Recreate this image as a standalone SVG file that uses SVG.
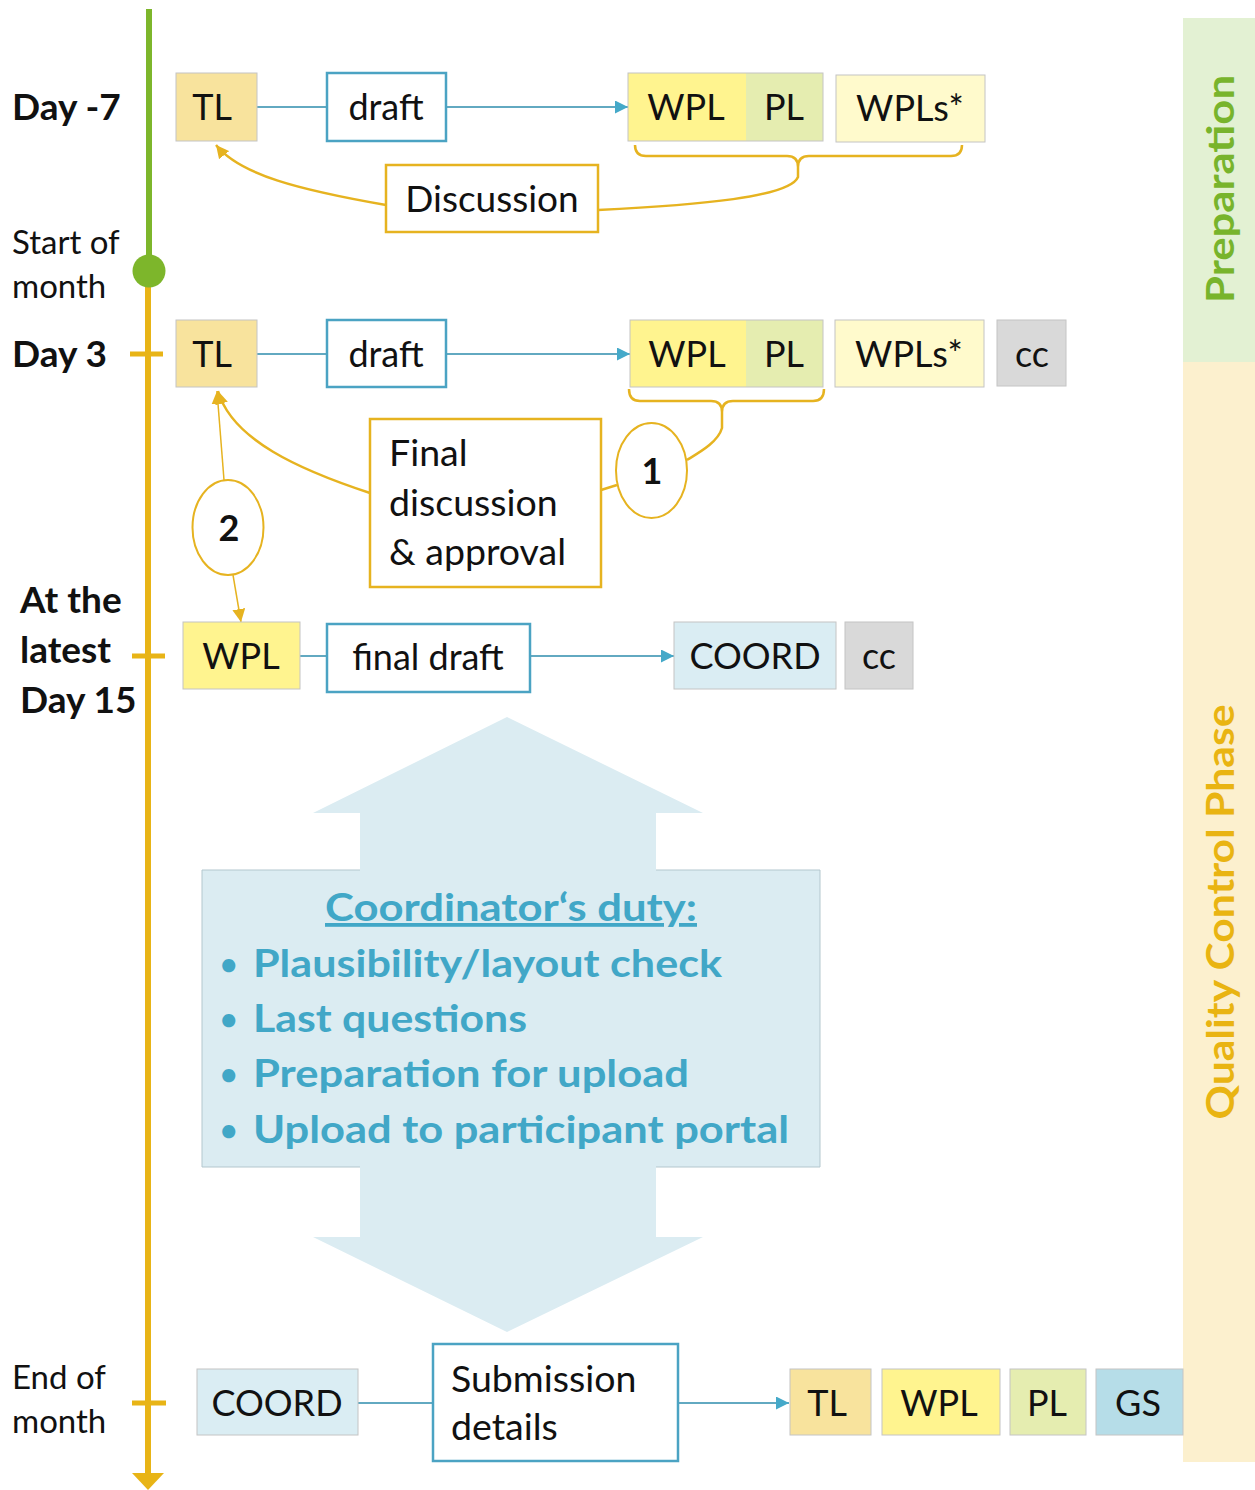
<svg xmlns="http://www.w3.org/2000/svg" width="1255" height="1490" viewBox="0 0 1255 1490">
<defs>
<style>
text{font-family:Lato,"Open Sans","Liberation Sans",sans-serif;fill:#111}
.n{font-size:36px;text-anchor:middle}
.lb{font-size:37px;font-weight:bold}
.ls{font-size:33px}
.mt{font-size:37.5px}
.node{stroke:#C4C4C4;stroke-width:1}
.tl{fill:#F8E39D}.wpl{fill:#FFF48F}.pl{fill:#E5EDB0}.wpls{fill:#FFFACC}.cc{fill:#D9D9D9}.coord{fill:#DAEDF3}.gs{fill:#B6DDE8}
.bbox{fill:#fff;stroke:#4BA3C3;stroke-width:2.5}
.obox{fill:#fff;stroke:#E6B320;stroke-width:2.5}
.bl{fill:none;stroke:#62A9C1;stroke-width:2}
.ol{fill:none;stroke:#E6B320;stroke-width:2.5}
.olt{fill:none;stroke:#E6B320;stroke-width:1.5}
.duty{font-size:38px;font-weight:bold;fill:#41A7C7}
.bul{font-size:30px;font-weight:bold;fill:#41A7C7}
</style>
<marker id="ab" viewBox="0 0 12 12" refX="12" refY="6" markerWidth="13" markerHeight="13" markerUnits="userSpaceOnUse" orient="auto"><path d="M0,0 L12,6 L0,12 Z" fill="#45A9C9"/></marker>
<marker id="ao" viewBox="0 0 12 12" refX="12" refY="6" markerWidth="13" markerHeight="13" markerUnits="userSpaceOnUse" orient="auto"><path d="M0,0 L12,6 L0,12 Z" fill="#E6B320"/></marker>
</defs>

<!-- phase bands -->
<g id="band-preparation">
<rect x="1183" y="18" width="72" height="344" fill="#E3F1D3"/>
<text transform="translate(1234,189) rotate(-90)" text-anchor="middle" font-size="38" font-weight="bold" style="fill:#78B42C" textLength="228" lengthAdjust="spacingAndGlyphs">Preparation</text>
</g>
<g id="band-quality">
<rect x="1183" y="362" width="72" height="1100" fill="#FCF0CE"/>
<text transform="translate(1234,912) rotate(-90)" text-anchor="middle" font-size="38" font-weight="bold" style="fill:#E9B412" textLength="415" lengthAdjust="spacingAndGlyphs">Quality Control Phase</text>
</g>

<!-- timeline -->
<g id="timeline">
<line x1="149" y1="9" x2="149" y2="272" stroke="#7DB62B" stroke-width="6"/>
<line x1="148" y1="272" x2="148" y2="1476" stroke="#E8B416" stroke-width="6"/>
<path d="M132,1473 L164,1473 L148,1490 Z" fill="#E8B416"/>
<line x1="130" y1="354" x2="163" y2="354" stroke="#E8B416" stroke-width="5"/>
<line x1="132" y1="656" x2="165" y2="656" stroke="#E8B416" stroke-width="5"/>
<line x1="132" y1="1403" x2="166" y2="1403" stroke="#E8B416" stroke-width="5"/>
<circle cx="149" cy="271" r="16.5" fill="#7DB62B"/>
</g>

<!-- left labels -->
<g id="labels">
<text class="lb" x="12" y="120">Day -7</text>
<text class="ls" x="12" y="254">Start of</text>
<text class="ls" x="12" y="298">month</text>
<text class="lb" x="12" y="367">Day 3</text>
<text class="lb" x="20" y="613">At the</text>
<text class="lb" x="20" y="663">latest</text>
<text class="lb" x="20" y="713">Day 15</text>
<text class="ls" x="12" y="1389">End of</text>
<text class="ls" x="12" y="1433">month</text>
</g>

<!-- big coordinator double arrow -->
<g id="coordinator-duty">
<path d="M507,717 L703,813 L656,813 L656,870 L820,870 L820,1167 L656,1167 L656,1237 L703,1237 L507,1332 L313,1237 L360,1237 L360,1167 L202,1167 L202,870 L360,870 L360,813 L313,813 Z" fill="#DBECF2"/>
<path d="M360,870 L202,870 L202,1167 L360,1167 M656,1167 L820,1167 L820,870 L656,870" fill="none" stroke="#B3C7CE" stroke-width="1"/>
<text class="duty" x="511" y="921" text-anchor="middle" text-decoration="underline" textLength="372" lengthAdjust="spacingAndGlyphs">Coordinator‘s duty:</text>
<text class="bul" x="220" y="975">•</text>
<text class="duty" x="253" y="977" textLength="469" lengthAdjust="spacingAndGlyphs">Plausibility/layout check</text>
<text class="bul" x="220" y="1030">•</text>
<text class="duty" x="253" y="1032" textLength="274" lengthAdjust="spacingAndGlyphs">Last questions</text>
<text class="bul" x="220" y="1085">•</text>
<text class="duty" x="253" y="1087" textLength="436" lengthAdjust="spacingAndGlyphs">Preparation for upload</text>
<text class="bul" x="220" y="1141">•</text>
<text class="duty" x="253" y="1143" textLength="536" lengthAdjust="spacingAndGlyphs">Upload to participant portal</text>
</g>

<!-- connectors -->
<g id="connectors">
<path class="bl" d="M257,107 H327"/>
<path class="bl" d="M446,107 H628" marker-end="url(#ab)"/>
<path class="bl" d="M257,354 H327"/>
<path class="bl" d="M446,354 H630" marker-end="url(#ab)"/>
<path class="bl" d="M300,656 H327"/>
<path class="bl" d="M530,656 H674" marker-end="url(#ab)"/>
<path class="bl" d="M358,1403 H433"/>
<path class="bl" d="M678,1403 H789" marker-end="url(#ab)"/>
<!-- brace row 1 -->
<path class="ol" d="M635,145 Q635,156 646,156 L787,156 Q798,156 798,167 Q798,156 809,156 L951,156 Q962,156 962,145"/>
<path class="ol" d="M798,167 L798,177 C790,197 700,205 598,210"/>
<path class="ol" d="M386,205 C300,190 240,175 216,145" marker-end="url(#ao)"/>
<!-- brace row 2 -->
<path class="ol" d="M629,389 Q629,401 640,401 L711,401 Q722,401 722,412 Q722,401 733,401 L813,401 Q824,401 824,389"/>
<path class="ol" d="M722,412 L722,428 C718,442 700,452 687,460"/>
<path class="ol" d="M601,490 L617,485"/>
<path class="ol" d="M370,493 C300,470 232,440 218,391" marker-end="url(#ao)"/>
<path class="olt" d="M224,480 L217,391" marker-end="url(#ao)"/>
<path class="olt" d="M233,575 L241,622" marker-end="url(#ao)"/>
</g>

<!-- row Day -7 -->
<g id="tl-1"><rect class="node tl" x="176" y="73" width="81" height="68"/><text class="n" x="212" y="120">TL</text></g>
<g id="draft-1"><rect class="bbox" x="327" y="73" width="119" height="68"/><text class="n" x="386" y="120">draft</text></g>
<g id="wpl-pl-1"><rect class="wpl" x="628" y="73" width="118" height="68"/><rect class="pl" x="746" y="73" width="77" height="68"/><rect class="node" fill="none" x="628" y="73" width="195" height="68"/><text class="n" x="686" y="120">WPL</text><text class="n" x="784" y="120">PL</text></g>
<g id="wpls-1"><rect class="node wpls" x="836" y="75" width="149" height="67"/><text class="n" x="910" y="121">WPLs*</text></g>
<g id="discussion"><rect class="obox" x="386" y="165" width="212" height="67"/><text class="n" x="492" y="212" style="font-size:37px">Discussion</text></g>

<!-- row Day 3 -->
<g id="tl-2"><rect class="node tl" x="176" y="320" width="81" height="67"/><text class="n" x="212" y="367">TL</text></g>
<g id="draft-2"><rect class="bbox" x="327" y="320" width="119" height="67"/><text class="n" x="386" y="367">draft</text></g>
<g id="wpl-pl-2"><rect class="wpl" x="630" y="320" width="116" height="67"/><rect class="pl" x="746" y="320" width="77" height="67"/><rect class="node" fill="none" x="630" y="320" width="193" height="67"/><text class="n" x="687" y="367">WPL</text><text class="n" x="784" y="367">PL</text></g>
<g id="wpls-2"><rect class="node wpls" x="835" y="320" width="149" height="67"/><text class="n" x="909" y="367">WPLs*</text></g>
<g id="cc-2"><rect class="node cc" x="997" y="320" width="69" height="66"/><text class="n" x="1032" y="367">cc</text></g>
<g id="final-discussion"><rect class="obox" x="370" y="419" width="231" height="168"/><text class="mt" x="389" y="466">Final</text><text class="mt" x="389" y="516">discussion</text><text class="mt" x="389" y="565">&amp; approval</text></g>
<g id="circle-1"><ellipse cx="651.5" cy="470.5" rx="35.5" ry="47.5" fill="#fff" stroke="#E6B320" stroke-width="2"/><text class="n" x="652" y="484" font-weight="bold">1</text></g>
<g id="circle-2"><ellipse cx="228" cy="527.5" rx="35.5" ry="47.5" fill="#fff" stroke="#E6B320" stroke-width="2"/><text class="n" x="229" y="541" font-weight="bold">2</text></g>

<!-- row Day 15 -->
<g id="wpl-3"><rect class="node wpl" x="183" y="622" width="117" height="67"/><text class="n" x="241" y="669">WPL</text></g>
<g id="final-draft"><rect class="bbox" x="327" y="624" width="203" height="68"/><text class="n" x="428" y="670">final draft</text></g>
<g id="coord-3"><rect class="node coord" x="674" y="622" width="162" height="67"/><text class="n" x="755" y="669">COORD</text></g>
<g id="cc-3"><rect class="node cc" x="845" y="622" width="68" height="67"/><text class="n" x="879" y="669">cc</text></g>

<!-- row End of month -->
<g id="coord-4"><rect class="node coord" x="197" y="1369" width="161" height="66"/><text class="n" x="277" y="1416">COORD</text></g>
<g id="submission"><rect class="bbox" x="433" y="1344" width="245" height="117"/><text class="mt" x="451" y="1392">Submission</text><text class="mt" x="451" y="1440">details</text></g>
<g id="tl-4"><rect class="node tl" x="790" y="1369" width="81" height="66"/><text class="n" x="827" y="1416">TL</text></g>
<g id="wpl-4"><rect class="node wpl" x="882" y="1369" width="118" height="66"/><text class="n" x="939" y="1416">WPL</text></g>
<g id="pl-4"><rect class="node pl" x="1010" y="1369" width="76" height="66"/><text class="n" x="1047" y="1416">PL</text></g>
<g id="gs-4"><rect class="node gs" x="1096" y="1369" width="87" height="66"/><text class="n" x="1138" y="1416">GS</text></g>
</svg>
